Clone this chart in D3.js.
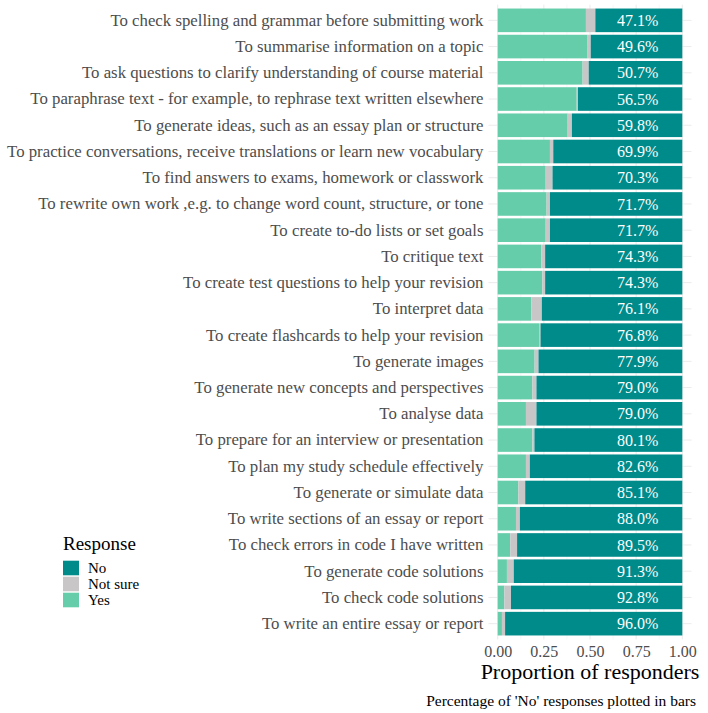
<!DOCTYPE html>
<html>
<head>
<meta charset="utf-8">
<script src="https://cdn.jsdelivr.net/npm/d3@7"></script>
<style>
	body { margin: 0; background: #fff; }
	svg text { font-family: "Liberation Serif", "Times New Roman", serif; }
</style>
</head>
<body>
<svg id="chart" width="708" height="713"></svg>
<script>
// uses of the tool, top to bottom
var categories = [
	"To check spelling and grammar before submitting work"
	, "To summarise information on a topic"
	, "To ask questions to clarify understanding of course material"
	, "To paraphrase text - for example, to rephrase text written elsewhere"
	, "To generate ideas, such as an essay plan or structure"
	, "To practice conversations, receive translations or learn new vocabulary"
	, "To find answers to exams, homework or classwork"
	, "To rewrite own work ,e.g. to change word count, structure, or tone"
	, "To create to-do lists or set goals"
	, "To critique text"
	, "To create test questions to help your revision"
	, "To interpret data"
	, "To create flashcards to help your revision"
	, "To generate images"
	, "To generate new concepts and perspectives"
	, "To analyse data"
	, "To prepare for an interview or presentation"
	, "To plan my study schedule effectively"
	, "To generate or simulate data"
	, "To write sections of an essay or report"
	, "To check errors in code I have written"
	, "To generate code solutions"
	, "To check code solutions"
	, "To write an entire essay or report"
];

// proportions (same order as categories)
var yesVals = [0.478, 0.487, 0.460, 0.428, 0.379, 0.283, 0.260, 0.265, 0.260, 0.236, 0.242, 0.182,
	0.224, 0.200, 0.188, 0.153, 0.188, 0.153, 0.112, 0.099, 0.068, 0.050, 0.036, 0.023];
var notSureVals = [0.051, 0.017, 0.033, 0.007, 0.023, 0.018, 0.037, 0.018, 0.023, 0.021, 0.015, 0.057,
	0.008, 0.021, 0.022, 0.057, 0.011, 0.021, 0.037, 0.021, 0.037, 0.037, 0.036, 0.017];
var noVals = [0.471, 0.496, 0.507, 0.565, 0.598, 0.699, 0.703, 0.717, 0.717, 0.743, 0.743, 0.761,
	0.768, 0.779, 0.790, 0.790, 0.801, 0.826, 0.851, 0.880, 0.895, 0.913, 0.928, 0.960];

var responses = ["Yes", "Not sure", "No"];  // stacking order, left to right
var legendOrder = ["No", "Not sure", "Yes"];
var xTicks = [0, 0.25, 0.5, 0.75, 1];
var xMinor = [0.125, 0.375, 0.625, 0.875];

var colours = { "No": "#008b8b", "Not sure": "#c9c6c8", "Yes": "#66cdaa" };

var svg = d3.select("#chart");

// panel edges (ggplot adds 5% on x, 0.6 of a band on y)
var x0 = 497.7, x1 = 682.3
	, panelTop = 4.6, panelBottom = 639.4
	, labelSize = 16, catSize = 16.8;

var x = d3.scaleLinear().domain([0, 1]).range([x0, x1]);
var xPad = (x1 - x0) * 0.05;

var y = d3.scaleBand()
	.domain(categories)
	.range([panelTop, panelBottom])
	.paddingInner(0.1)
	.paddingOuter(0.15);

// one row per category with the three stacked pieces
var rows = categories.map(function (c, i) {
	return { cat: c, "Yes": yesVals[i], "Not sure": notSureVals[i], "No": noVals[i] };
});
var stacked = d3.stack().keys(responses)(rows);

// --- GRID --- \\
var grid = svg.append("g").attr("class", "grid");

grid.selectAll(".minor").data(xMinor).enter().append("line")
	.attr("x1", function (d) { return x(d); })
	.attr("x2", function (d) { return x(d); })
	.attr("y1", panelTop).attr("y2", panelBottom)
	.attr("stroke", "#f2f2f2").attr("stroke-width", 0.6);

grid.selectAll(".major").data(xTicks).enter().append("line")
	.attr("x1", function (d) { return x(d); })
	.attr("x2", function (d) { return x(d); })
	.attr("y1", panelTop).attr("y2", panelBottom)
	.attr("stroke", "#ebebeb").attr("stroke-width", 1);

grid.selectAll(".hline").data(categories).enter().append("line")
	.attr("x1", x0 - xPad).attr("x2", x1 + xPad)
	.attr("y1", function (d) { return y(d) + y.bandwidth() / 2; })
	.attr("y2", function (d) { return y(d) + y.bandwidth() / 2; })
	.attr("stroke", "#ebebeb").attr("stroke-width", 1);

// --- BARS --- \\
svg.append("g").selectAll("g").data(stacked).enter().append("g")
	.attr("fill", function (s) { return colours[s.key]; })
	.selectAll("rect").data(function (s) { return s; }).enter().append("rect")
	.attr("x", function (d) { return x(d[0]); })
	.attr("width", function (d) { return x(d[1]) - x(d[0]); })
	.attr("y", function (d) { return y(d.data.cat); })
	.attr("height", y.bandwidth());

// percentage of 'No' in white, all at the same x
svg.append("g").selectAll("text").data(rows).enter().append("text")
	.attr("x", x(0.758))
	.attr("y", function (d) { return y(d.cat) + y.bandwidth() / 2; })
	.attr("dy", "0.35em")
	.attr("text-anchor", "middle")
	.attr("fill", "#fff")
	.attr("font-size", labelSize + "px")
	.text(function (d) { return d3.format(".1%")(d["No"]); });

// --- AXES --- \\
var yAxis = svg.append("g")
	.attr("transform", "translate(" + (x0 - xPad - 5) + ",0)")
	.call(d3.axisLeft(y).tickSize(0).tickPadding(0));
yAxis.select(".domain").remove();
yAxis.selectAll("text")
	.attr("fill", "#4d4d4d")
	.style("font-size", catSize + "px")
	.style("font-family", "'Liberation Serif'");

var xAxis = svg.append("g")
	.attr("transform", "translate(0," + panelBottom + ")")
	.call(d3.axisBottom(x).tickValues(xTicks).tickFormat(d3.format(".2f")).tickSize(0).tickPadding(6));
xAxis.select(".domain").remove();
xAxis.selectAll("text")
	.attr("fill", "#4d4d4d")
	.style("font-size", labelSize + "px")
	.style("font-family", "'Liberation Serif'");

svg.append("text")
	.attr("x", (x0 + x1) / 2).attr("y", 679)
	.attr("text-anchor", "middle")
	.attr("font-size", "22px")
	.attr("fill", "#000")
	.text("Proportion of responders");

svg.append("text")
	.attr("x", 696).attr("y", 705.5)
	.attr("text-anchor", "end")
	.attr("font-size", "15.5px")
	.attr("fill", "#000")
	.text("Percentage of 'No' responses plotted in bars");

// --- LEGEND --- \\
var legend = svg.append("g").attr("transform", "translate(63,550)");

legend.append("text")
	.attr("x", 0).attr("y", 0)
	.attr("font-size", "19px")
	.attr("fill", "#000")
	.text("Response");

var keys = legend.selectAll(".key").data(legendOrder).enter().append("g")
	.attr("transform", function (d, i) { return "translate(0," + (10.7 + i * 16) + ")"; });

keys.append("rect")
	.attr("width", 16).attr("height", 14.6)
	.attr("fill", function (d) { return colours[d]; });

keys.append("text")
	.attr("x", 25).attr("y", 7.5)
	.attr("dy", "0.35em")
	.attr("font-size", "15px")
	.attr("fill", "#000")
	.text(function (d) { return d; });
</script>
</body>
</html>
